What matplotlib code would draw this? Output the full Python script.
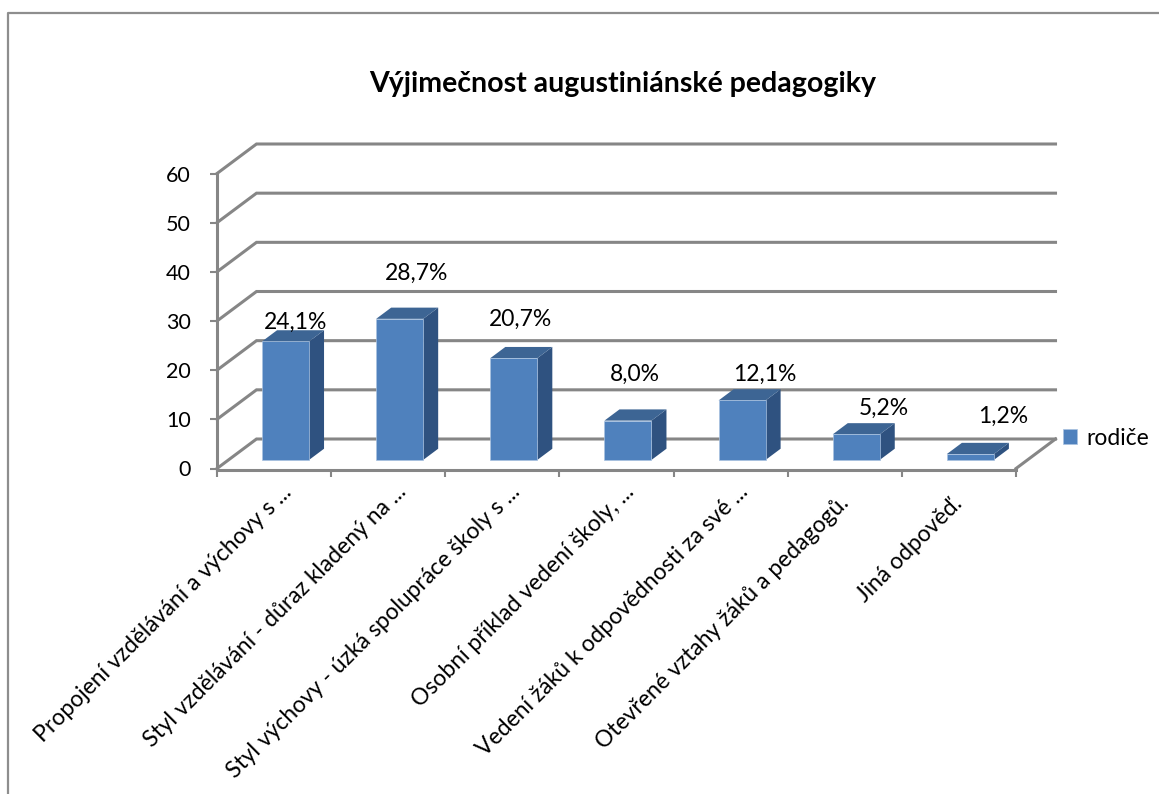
#!/usr/bin/env python3

import numpy as np
from matplotlib import pyplot as plt
from matplotlib.lines import Line2D
from matplotlib.patches import Polygon
from matplotlib.transforms import ScaledTranslation

plt.rcParams['font.family'] = ['Lato', 'DejaVu Sans']

categories = ['Propojení vzdělávání a výchovy s ...',
              'Styl vzdělávání - důraz kladený na ...',
              'Styl výchovy - úzká spolupráce školy s ...',
              'Osobní příklad vedení školy, ...',
              'Vedení žáků k odpovědnosti za své ...',
              'Otevřené vztahy žáků a pedagogů.',
              'Jiná odpověď.']
values = [24.1, 28.7, 20.7, 8.0, 12.1, 5.2, 1.2]
value_labels = ['24,1%', '28,7%', '20,7%', '8,0%', '12,1%', '5,2%', '1,2%']
y_ticks = [0, 10, 20, 30, 40, 50, 60]
series_name = 'rodiče'
title = 'Výjimečnost augustiniánské pedagogiky'

# label shift from the bar top, in points
label_dx = [7, 12, 5, 5, 16, 20, 23.5]
label_dy = [14, 33, 28, 33.5, 19, 18.5, 27]

W, H = 1159, 794
GRID = '#868686'
FRONT = '#4f81bd'
TOP = '#3d6594'
SIDE = '#2f5280'

# depth of the box in data units (39.5 px right, 29.5 px up)
depth_x = 39.5 / (799 / 7)
depth_y = 29.5 / (295 / 60)
bar_width = 47 / (799 / 7)
d0, d1 = 0.29, 0.67  # where the bars sit in the depth of the box


def proj(x, y, d):
    return x + d * depth_x, y + d * depth_y


fig = plt.figure(figsize=(W / 100, H / 100), dpi=100)
ax = fig.add_axes([217 / W, (H - 468.5) / H, 799 / W, 295 / H])
ax.patch.set_alpha(0)
ax.set_xlim(0, len(categories))
ax.set_ylim(0, 60)

for s in ['top', 'right']:
    ax.spines[s].set_visible(False)
for s in ['left', 'bottom']:
    ax.spines[s].set_color(GRID)
    ax.spines[s].set_linewidth(2.2)
ax.spines['bottom'].set_position(('outward', 1.2))

# back wall and the diagonal lines
n = len(categories)
for t in y_ticks:
    bx, by = proj(0, t, 1)
    ex, ey = proj(n, t, 1)
    ax.plot([0, bx, ex], [t, by, ey], color=GRID, lw=2.2, clip_on=False,
            zorder=1, solid_joinstyle='miter')
ex, ey = proj(n, 0, 1)
ax.plot([n, ex], [0, ey], color=GRID, lw=2.2, clip_on=False, zorder=1)

# bars
centers = np.arange(n) + 0.5
x_front = centers + d0 * depth_x
base = d0 * depth_y
bars = ax.bar(x_front, values, bar_width, bottom=base, color=FRONT,
              edgecolor='#a9c2e0', linewidth=0.5, clip_on=False, zorder=4,
              label=series_name)

for x, v in zip(x_front, values):
    l, r = x - bar_width / 2, x + bar_width / 2
    step = d1 - d0
    dx, dy = step * depth_x, step * depth_y
    ax.add_patch(Polygon([(r, base), (r + dx, base + dy),
                          (r + dx, base + v + dy), (r, base + v)],
                         facecolor=SIDE, edgecolor='none', clip_on=False, zorder=3))
    ax.add_patch(Polygon([(l, base + v), (l + dx, base + v + dy),
                          (r + dx, base + v + dy), (r, base + v)],
                         facecolor=TOP, edgecolor='none', clip_on=False, zorder=3))

for i, (x, v, txt) in enumerate(zip(x_front, values, value_labels)):
    ax.annotate(txt, (x, base + v), xytext=(label_dx[i], label_dy[i]),
                textcoords='offset points', ha='center', va='center',
                fontsize=16.5, color='black', zorder=6)

ax.set_yticks(y_ticks)
ax.tick_params(axis='y', length=5, width=1.5, color=GRID, pad=14, labelsize=15.5)
ax.set_xticks(np.arange(n + 1))
ax.set_xticklabels([])
ax.tick_params(axis='x', which='major', length=5, width=1.5, color=GRID)
ax.set_xticks(centers + 0.06, labels=categories, minor=True, rotation=45,
              ha='right', rotation_mode='anchor', fontsize=16.5)
ax.tick_params(axis='x', which='minor', length=0, pad=8)

# the last two labels are not cut with dots and end a bit lower
for lab in ax.get_xticklabels(minor=True)[-2:]:
    lab.set_transform(lab.get_transform()
                      + ScaledTranslation(-10 / 72, -8 / 72, fig.dpi_scale_trans))

ax.legend(loc='center left', bbox_to_anchor=((1063 - 217) / 799, 0.103),
          frameon=False, fontsize=16.5, handlelength=0.62, handleheight=0.62,
          handletextpad=0.38, borderpad=0, borderaxespad=0)

fig.text(623 / W, 1 - 84 / H, title, ha='center', va='center',
         fontsize=20.5, fontweight='bold')

# chart frame, only its top and left edge are in the picture
fig.add_artist(Line2D([7.5 / W, 7.5 / W, 1], [0, 1 - 12.5 / H, 1 - 12.5 / H],
                      color='#8e8e8e', lw=1.6))

fig.savefig('out.png', dpi=100)
